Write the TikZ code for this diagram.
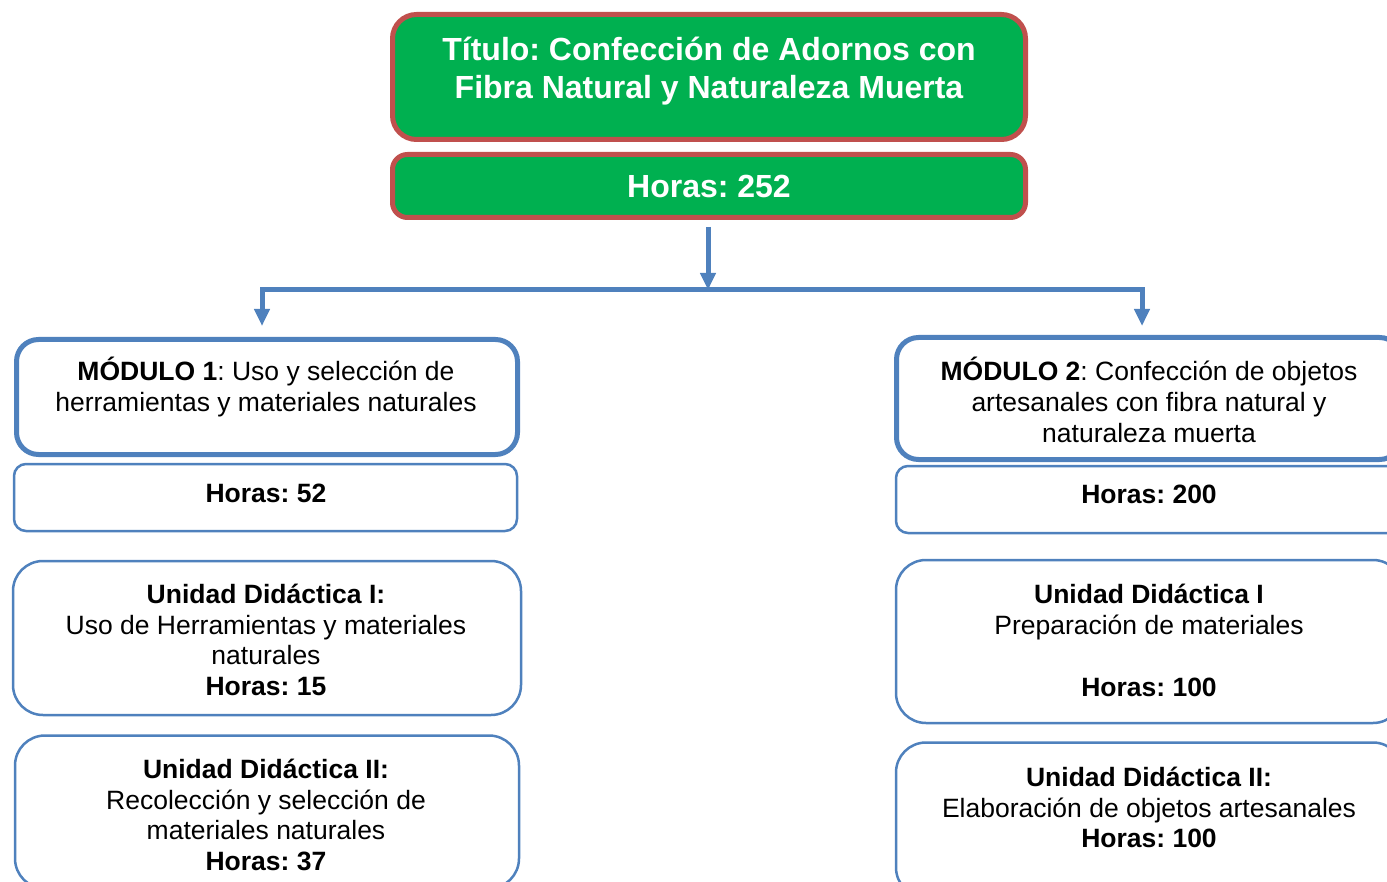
\documentclass[tikz,border=0pt]{standalone}
\usepackage{fontspec}
\setmainfont{Liberation Sans}
\usetikzlibrary{arrows.meta}
\definecolor{tgreen}{HTML}{00B050}
\definecolor{tred}{HTML}{C0504D}
\definecolor{tblue}{HTML}{4F81BD}
\frenchspacing
\begin{document}
\begin{tikzpicture}[x=1pt,y=-1pt,
 greenbox/.style={draw=tred, fill=tgreen, line width=5pt, inner sep=0pt},
 modbox/.style={draw=tblue, fill=white, line width=5pt, rounded corners=22pt, inner sep=0pt},
 hourbox/.style={draw=tblue, fill=white, line width=2.5pt, rounded corners=12pt, inner sep=0pt},
 unitbox/.style={draw=tblue, fill=white, line width=2.5pt, rounded corners=30pt, inner sep=0pt},
 ttl/.style={text=white, font=\fontsize{32}{38}\selectfont\bfseries, align=center, inner sep=0pt},
 txt/.style={font=\fontsize{26.5}{30.8}\selectfont, align=center, inner sep=0pt},
 conn/.style={draw=tblue, line width=5pt},
 tipa/.style={-{Triangle[length=17pt,width=15pt]}}
]
\useasboundingbox (0,0) rectangle (1387,882);
\clip (0,0) rectangle (1387,882);

% top boxes
\node[greenbox, rounded corners=24pt, minimum width=633pt, minimum height=125pt] (title) at (709,77) {};
\node[ttl] (titletxt) at (709,71) {Título: Confección de Adornos con\\Fibra Natural y Naturaleza Muerta};
\node[greenbox, rounded corners=15pt, minimum width=633pt, minimum height=63pt] (hrs) at (709,186) {};
\node[ttl] (hrstxt) at (709,186) {Horas: 252};

% left column
\node[modbox, minimum width=501pt, minimum height=115pt] (m1) at (267,397) {};
\node[txt] (m1txt) at (266,387) {\textbf{MÓDULO 1}: Uso y selección de\\herramientas y materiales naturales};
\node[hourbox, minimum width=503pt, minimum height=67pt] (h1) at (265.5,497.5) {};
\node[txt] (h1txt) at (266,493) {\textbf{Horas: 52}};
\node[unitbox, minimum width=508pt, minimum height=154pt] (u1) at (267,638) {};
\node[txt] (u1txt) at (266,640) {\textbf{Unidad Didáctica I:}\\Uso de Herramientas y materiales\\naturales\\\textbf{Horas: 15}};
\node[unitbox, minimum width=504pt, minimum height=153pt] (u2) at (267,812) {};
\node[txt] (u2txt) at (266,815) {\textbf{Unidad Didáctica II:}\\Recolección y selección de\\materiales naturales\\\textbf{Horas: 37}};

% right column
\node[modbox, minimum width=505pt, minimum height=122pt] (m2) at (1149,398.5) {};
\node[txt] (m2txt) at (1149,400) {\textbf{MÓDULO 2}: Confección de objetos\\artesanales con fibra natural y\\naturaleza muerta};
\node[hourbox, minimum width=507pt, minimum height=67pt] (h2) at (1149.5,499.5) {};
\node[txt] (h2txt) at (1149,494) {\textbf{Horas: 200}};
\node[unitbox, minimum width=507pt, minimum height=163pt] (u3) at (1149.5,641.5) {};
\node[txt] (u3txt) at (1149,640.5) {\textbf{Unidad Didáctica I}\\Preparación de materiales\\[30.8pt]\textbf{Horas: 100}};
\node[unitbox, minimum width=507pt, minimum height=155pt] (u4) at (1149.5,820) {};
\node[txt] (u4txt) at (1149,807.5) {\textbf{Unidad Didáctica II:}\\Elaboración de objetos artesanales\\\textbf{Horas: 100}};

% connectors
\coordinate (j) at (708,290);
\coordinate (jl) at (262,290);
\coordinate (jr) at (1142,290);
\draw[conn, tipa, shorten <=7pt] (hrs.south -| j) -- (j);
\draw[conn, {Triangle[length=17pt,width=15pt]}-{Triangle[length=17pt,width=15pt]}, line join=miter, shorten <=11pt, shorten >=9pt] (m1.north -| jl) -- (jl) -- (jr) -- (m2.north -| jr);
\end{tikzpicture}
\end{document}
